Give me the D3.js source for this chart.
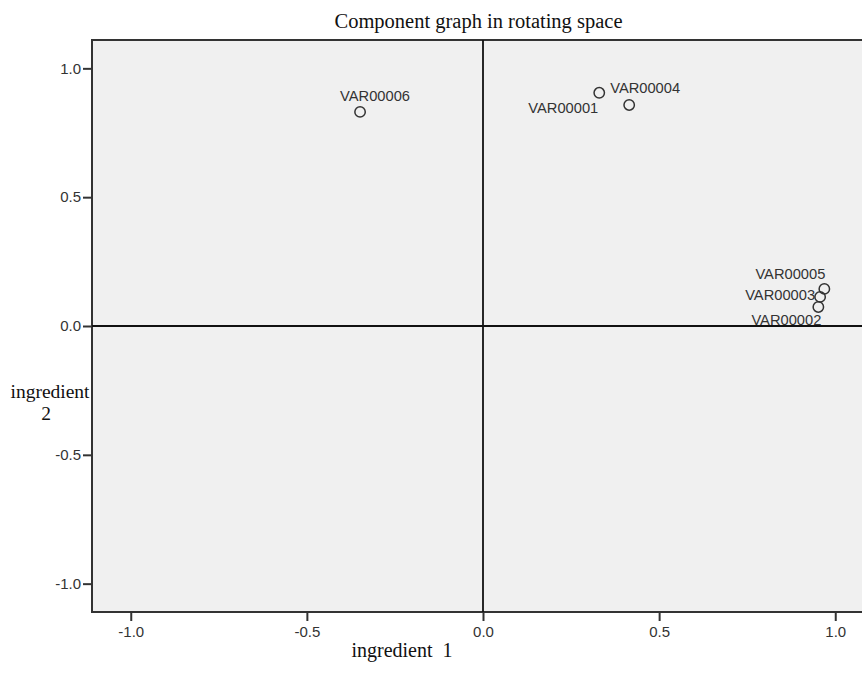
<!DOCTYPE html>
<html><head><meta charset="utf-8">
<script src="https://cdn.jsdelivr.net/npm/d3@7/dist/d3.min.js"></script>
<style>body{margin:0;background:#fff;}</style>
</head><body>
<script>
const names = ["VAR00001","VAR00002","VAR00003","VAR00004","VAR00005","VAR00006"];
const comp1 = [0.330, 0.952, 0.957, 0.415, 0.969, -0.349];
const comp2 = [0.905, 0.074, 0.113, 0.858, 0.144, 0.831];
const xTicks = [-1.0, -0.5, 0.0, 0.5, 1.0];
const yTicks = [-1.0, -0.5, 0.0, 0.5, 1.0];
// label placement (style): [dx, dy, anchor]
const labelPlace = [[-1,20,"end"],[3,18,"end"],[-5,3,"end"],[-19,-12,"start"],[1,-10,"end"],[-20,-11,"start"]];

const W=862,H=675;
const svg=d3.select("body").append("svg").attr("width",W).attr("height",H);
const x=d3.scaleLinear().domain([-1.11,1.11]).range([92,874]);
const y=d3.scaleLinear().domain([-1.11,1.11]).range([612,40]);

svg.append("rect").attr("x",x(-1.11)).attr("y",y(1.11)).attr("width",x(1.11)-x(-1.11)).attr("height",y(-1.11)-y(1.11))
  .attr("fill","#f0f0f0").attr("stroke","#333").attr("stroke-width",2);

const tickFont="Liberation Sans, Arial, sans-serif";
const xa=svg.append("g").attr("transform",`translate(0,${y(-1.11)})`)
  .call(d3.axisBottom(x).tickValues(xTicks).tickFormat(d3.format(".1f")).tickSize(9).tickPadding(5));
const ya=svg.append("g").attr("transform",`translate(${x(-1.11)},0)`)
  .call(d3.axisLeft(y).tickValues(yTicks).tickFormat(d3.format(".1f")).tickSize(9).tickPadding(2));
[xa,ya].forEach(a=>{a.select(".domain").remove();
  a.selectAll("line").attr("stroke","#333").attr("stroke-width",2);
  a.selectAll("text").attr("font-family",tickFont).attr("font-size",15).attr("fill","#333");});
xa.selectAll("text").text(d=>d3.format(".1f")(d).replace("−","-"));
ya.selectAll("text").text(d=>d3.format(".1f")(d).replace("−","-"));

// zero lines
svg.append("line").attr("x1",x(0)).attr("x2",x(0)).attr("y1",y(1.11)).attr("y2",y(-1.11)).attr("stroke","#111").attr("stroke-width",1.8);
svg.append("line").attr("x1",x(-1.11)).attr("x2",x(1.11)).attr("y1",y(0)).attr("y2",y(0)).attr("stroke","#111").attr("stroke-width",1.8);

const pts=names.map((n,i)=>({n,a:comp1[i],b:comp2[i],p:labelPlace[i]}));
svg.selectAll("text.lab").data(pts).join("text").attr("class","lab")
  .attr("x",d=>x(d.a)+d.p[0]).attr("y",d=>y(d.b)+d.p[1]).attr("text-anchor",d=>d.p[2])
  .attr("font-family",tickFont).attr("font-size",14.7).attr("fill","#333").text(d=>d.n);
svg.selectAll("circle.pt").data(pts).join("circle").attr("class","pt")
  .attr("cx",d=>x(d.a)).attr("cy",d=>y(d.b)).attr("r",5.2)
  .attr("fill","none").attr("stroke","#333").attr("stroke-width",1.5);

const serif="Liberation Serif, Times New Roman, serif";
svg.append("text").attr("x",478.5).attr("y",28).attr("text-anchor","middle").attr("font-family",serif).attr("font-size",20.5).attr("fill","#111").text("Component graph in rotating space");
svg.append("text").attr("x",402).attr("y",657).attr("text-anchor","middle").attr("font-family",serif).attr("font-size",20).attr("fill","#111").attr("xml:space","preserve").text("ingredient  1");
svg.append("text").attr("x",50).attr("y",398).attr("text-anchor","middle").attr("font-family",serif).attr("font-size",19.5).attr("fill","#111").text("ingredient");
svg.append("text").attr("x",46).attr("y",420).attr("text-anchor","middle").attr("font-family",serif).attr("font-size",19.5).attr("fill","#111").text("2");
</script>
</body></html>
